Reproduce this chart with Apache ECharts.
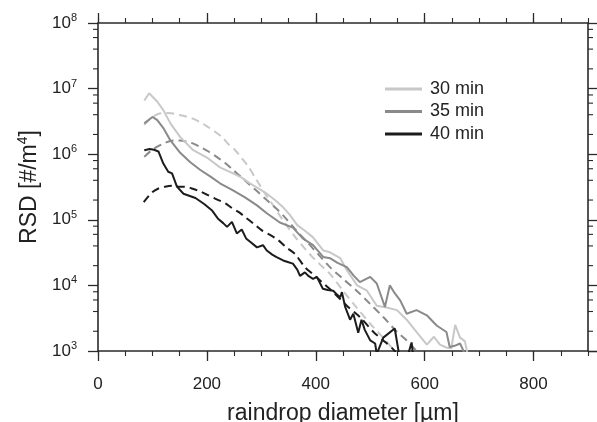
<!DOCTYPE html>
<html>
<head>
<meta charset="utf-8">
<script src="https://cdn.jsdelivr.net/npm/echarts@6/dist/echarts.min.js"></script>
<style>html,body{margin:0;padding:0;background:#fff;}#c{width:597px;height:422px;}</style>
</head>
<body>
<div id="c"></div>
<script>
// ---- data (diameter in µm, RSD in #/m^4) ----
const seriesNames = ['30 min', '35 min', '40 min'];
const obs30 = [[85,6.6e6],[94,8.5e6],[109,6.3e6],[120,4.7e6],[133,2.95e6],[151,1.82e6],[175,1.15e6],[200,8.9e5],[224,6.3e5],[248,5.1e5],[264,4.4e5],[279,3.6e5],[295,3.0e5],[310,2.5e5],[325,2.0e5],[340,1.55e5],[352,1.2e5],[366,8.3e4],[380,6.8e4],[395,5.4e4],[414,3.4e4],[426,3.2e4],[445,2.6e4],[457,1.7e4],[476,1.0e4],[494,8.3e3],[512,4.9e3],[530,4.6e3],[549,4.2e3],[567,3.0e3],[586,1.9e3],[604,1.25e3],[617,1.65e3],[628,1.25e3],[641,1.12e3],[649,1.1e3],[656,2.5e3],[665,1.6e3],[674,1.4e3],[680,800]];
const obs35 = [[85,2.95e6],[100,3.7e6],[109,3.3e6],[120,2.5e6],[133,1.62e6],[151,1.05e6],[169,7.6e5],[188,5.75e5],[206,4.6e5],[224,3.6e5],[248,2.8e5],[270,2.2e5],[292,1.66e5],[310,1.26e5],[334,9.1e4],[358,7.6e4],[376,5.2e4],[395,4.1e4],[414,2.7e4],[426,2.6e4],[440,2.2e4],[457,1.9e4],[470,1.4e4],[481,1.12e4],[500,1.35e4],[512,1.07e4],[527,4.7e3],[536,1.0e4],[545,7.6e3],[555,5.9e3],[567,3.7e3],[585,4.2e3],[604,3.5e3],[622,2.45e3],[640,1.95e3],[646,1.15e3],[655,1.2e3],[665,1.3e3],[674,900]];
const obs40 = [[85,1.15e6],[95,1.2e6],[103,1.17e6],[111,1.1e6],[120,7.2e5],[129,5.4e5],[136,5.1e5],[145,3.2e5],[157,2.5e5],[179,2.15e5],[195,1.74e5],[209,1.4e5],[220,1.05e5],[230,8.9e4],[237,7.8e4],[246,9.3e4],[255,6.2e4],[264,7.1e4],[272,5.2e4],[280,4.6e4],[292,3.8e4],[303,4.1e4],[310,3.4e4],[320,2.95e4],[328,2.7e4],[340,2.4e4],[350,2.25e4],[358,2.15e4],[366,1.74e4],[371,1.4e4],[380,1.58e4],[387,1.38e4],[395,1.26e4],[402,1.35e4],[413,8.9e3],[422,8.5e3],[432,8.3e3],[440,7.1e3],[445,6.6e3],[448,7.9e3],[454,4.7e3],[463,3.0e3],[469,3.7e3],[478,1.9e3],[484,3.0e3],[490,2.1e3],[500,1.45e3],[509,1.3e3],[512,900],[524,1.6e3],[545,2.2e3],[552,1.0e3],[556,700],[566,700],[576,1.35e3],[580,700]];
const fit30 = [[85,2.8e6],[95,3.4e6],[105,3.9e6],[115,4.2e6],[125,4.25e6],[135,4.2e6],[147,4.0e6],[160,3.8e6],[172,3.55e6],[187,3.1e6],[202,2.6e6],[215,2.2e6],[228,1.82e6],[240,1.41e6],[252,1.15e6],[264,8.7e5],[276,6.5e5],[290,4.2e5],[307,2.5e5],[320,1.74e5],[331,1.26e5],[346,8.3e4],[362,5.5e4],[378,3.8e4],[393,2.75e4],[410,2.0e4],[426,1.5e4],[450,8.3e3],[475,4.6e3],[500,2.6e3],[523,1.62e3],[545,1.0e3],[555,800]];
const fit35 = [[85,9.1e5],[97,1.12e6],[108,1.29e6],[122,1.48e6],[139,1.62e6],[150,1.62e6],[163,1.55e6],[175,1.45e6],[188,1.29e6],[203,1.1e6],[218,9.1e5],[233,7.4e5],[248,5.75e5],[263,4.5e5],[279,3.4e5],[295,2.6e5],[310,2.0e5],[325,1.55e5],[340,1.17e5],[362,7.2e4],[385,4.5e4],[405,2.95e4],[426,1.9e4],[450,1.26e4],[475,8.3e3],[500,5.2e3],[524,3.3e3],[548,2.0e3],[567,1.45e3],[585,1.0e3],[595,800]];
const fit40 = [[84,1.86e5],[99,2.6e5],[111,3.0e5],[123,3.2e5],[136,3.3e5],[148,3.2e5],[160,3.2e5],[172,3.0e5],[188,2.7e5],[203,2.35e5],[218,2.05e5],[234,1.78e5],[246,1.51e5],[258,1.32e5],[272,1.07e5],[286,8.7e4],[301,6.9e4],[316,5.9e4],[331,4.9e4],[346,3.8e4],[362,3.0e4],[380,1.9e4],[395,1.48e4],[410,1.15e4],[432,7.9e3],[457,4.9e3],[481,3.3e3],[506,1.95e3],[524,1.45e3],[545,1.0e3],[555,700]];
const xMajorTicks = [0, 200, 400, 600, 800];
const yMinorTicks = [2e3,4e3,6e3,8e3,2e4,4e4,6e4,8e4,2e5,4e5,6e5,8e5,2e6,4e6,6e6,8e6,2e7,4e7,6e7,8e7];

const colors = ['#c8c8c8', '#8a8a8a', '#1c1c1c'];
const axisColor = '#2a2a2a';
const FONT = 'Liberation Sans, Arial, Helvetica, sans-serif';

function xAxisDef(pos, major) {
  return {
    type: 'value', position: pos, min: 0, max: 900, interval: major ? 200 : 50,
    axisLine: { show: major, onZero: false, lineStyle: { color: axisColor, width: 1.6 } },
    axisTick: major
      ? { show: true, length: 10, inside: false, customValues: xMajorTicks, lineStyle: { color: axisColor, width: 1.3 } }
      : { show: true, length: 5, inside: false, lineStyle: { color: axisColor, width: 1.1 } },
    axisLabel: (major && pos === 'bottom')
      ? { show: true, margin: 25, fontSize: 17, color: '#222', fontFamily: FONT, customValues: xMajorTicks,
          formatter: v => (v === 900 ? '' : String(v)) }
      : { show: false },
    splitLine: { show: false },
    name: (major && pos === 'bottom') ? 'raindrop diameter [\u00b5m]' : '',
    nameLocation: 'middle', nameGap: 51,
    nameTextStyle: { fontSize: 23, color: '#222', fontFamily: FONT }
  };
}
function yAxisDef(pos) {
  const left = pos === 'left';
  return {
    type: 'log', logBase: 10, position: pos, min: 1e3, max: 1e8,
    axisLine: { show: true, onZero: false, lineStyle: { color: axisColor, width: 1.6 } },
    axisTick: { show: true, length: 10, inside: false, lineStyle: { color: axisColor, width: 1.3 } },
    minorTick: { show: false },
    axisLabel: left ? {
      show: true, margin: 21, color: '#222', fontFamily: FONT,
      formatter: v => '{b|10}{s|' + Math.round(Math.log10(v)) + '}',
      rich: {
        b: { fontSize: 17, fontFamily: FONT, color: '#222' },
        s: { fontSize: 11, fontFamily: FONT, color: '#222', padding: [0, 0, 10, 0] }
      }
    } : { show: false },
    splitLine: { show: false },
    name: left ? 'RSD [#/m{s|4}]' : '',
    nameLocation: 'middle', nameGap: 55,
    nameTextStyle: { fontSize: 23, color: '#222', fontFamily: FONT,
      rich: { s: { fontSize: 14, fontFamily: FONT, color: '#222', padding: [0, 0, 12, 0] } } }
  };
}

const lineSeries = [];
[obs30, obs35, obs40].forEach((d, i) => {
  lineSeries.push({
    name: seriesNames[i], type: 'line', data: d, symbol: 'none', clip: true,
    lineStyle: { color: colors[i], width: 2 }, itemStyle: { color: colors[i] }, z: 3 + i
  });
});
[fit30, fit35, fit40].forEach((d, i) => {
  lineSeries.push({
    name: seriesNames[i] + ' fit', type: 'line', data: d, symbol: 'none', clip: true, smooth: 0.3,
    lineStyle: { color: colors[i], width: 2, type: [8, 5] }, z: 2
  });
});
lineSeries.push({
  type: 'custom', name: 'yminor', clip: false, silent: true,
  data: yMinorTicks.map(v => [0, v]),
  encode: { x: 0, y: 1 },
  renderItem: (params, api) => {
    const v = api.value(1);
    const pl = api.coord([0, v]);
    const pr = api.coord([900, v]);
    const st = { stroke: axisColor, lineWidth: 1.1 };
    return { type: 'group', children: [
      { type: 'line', shape: { x1: pl[0] - 5, y1: pl[1], x2: pl[0], y2: pl[1] }, style: st },
      { type: 'line', shape: { x1: pr[0], y1: pr[1], x2: pr[0] + 5, y2: pr[1] }, style: st }
    ] };
  }
});

const chart = echarts.init(document.getElementById('c'), null, { renderer: 'canvas' });
chart.setOption({
  animation: false,
  backgroundColor: '#fff',
  textStyle: { fontFamily: FONT },
  grid: { left: 98, right: 9, top: 23, bottom: 71, containLabel: false, outerBoundsMode: 'none' },
  legend: {
    data: seriesNames, orient: 'vertical', left: 380, top: 75,
    icon: 'rect', itemWidth: 37, itemHeight: 3, itemGap: 4.5,
    textStyle: { fontSize: 18, color: '#222', fontFamily: FONT, padding: [0, 0, 0, 3] }
  },
  xAxis: [xAxisDef('bottom', true), xAxisDef('bottom', false), xAxisDef('top', true), xAxisDef('top', false)],
  yAxis: [yAxisDef('left'), yAxisDef('right')],
  series: lineSeries
});
</script>
</body>
</html>
